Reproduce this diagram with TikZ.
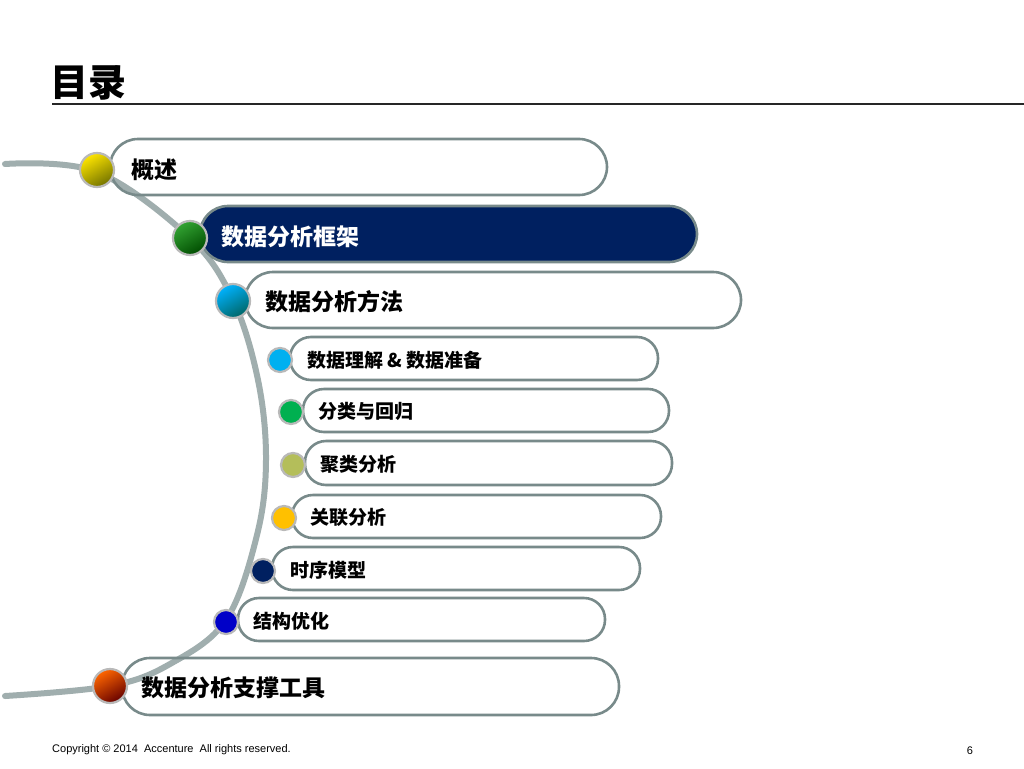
\documentclass[tikz,border=0pt]{standalone}
\usepackage{fontspec}
\setmainfont{Liberation Sans}
\newfontfamily\cjk{Noto Sans CJK SC}
\begin{document}
\begin{tikzpicture}[x=1pt,y=-1pt,
  box/.style={draw=boxgray,line width=2.6pt,rounded corners=#1},
  big/.style={font=\cjk\bfseries\fontsize{23}{26}\selectfont,anchor=west,inner sep=0pt},
  small/.style={font=\cjk\bfseries\fontsize{19}{22}\selectfont,anchor=west,inner sep=0pt},
  ring/.style={circle,draw=ringgray,line width=2.2pt,inner sep=0pt}]
\definecolor{boxgray}{RGB}{120,138,138}
\definecolor{arcgray}{RGB}{160,174,174}
\definecolor{ringgray}{RGB}{185,185,185}
\definecolor{navy}{RGB}{0,32,96}
\useasboundingbox (0,0) rectangle (1024,768);
\fill[white] (0,0) rectangle (1024,768);
% title
\node[font=\cjk\bfseries\fontsize{38}{40}\selectfont,anchor=west,inner sep=0pt] (title) at (50,83) {目录};
\coordinate (tl) at (52,104); \coordinate (tr) at (1024,104);
\draw[line width=1.6pt,black!85] (tl) -- (tr);
% arc
\draw[arcgray,line width=6pt,line cap=round] plot[smooth,tension=0.6] coordinates {(5,164) (97,172) (190,238) (233,300) (258,380) (266,460) (257,535) (226,620) (170,664) (110,686) (5,696)};
% boxes
\draw[box=28] (110,139) rectangle (607,195);
\draw[box=28,fill=navy] (200,206) rectangle (697,262);
\draw[box=28] (245,272) rectangle (741,328);
\draw[box=21] (290,337) rectangle (658,380);
\draw[box=21] (303,389) rectangle (669,432);
\draw[box=21] (305,441) rectangle (672,485);
\draw[box=21] (292,495) rectangle (661,538);
\draw[box=21] (272,547) rectangle (640,590);
\draw[box=21] (238,598) rectangle (605,641);
\draw[box=28] (122,658) rectangle (619,715);
% texts
\node[big] (t1) at (131,170) {概述};
\node[big,text=white] (t2) at (221,237) {数据分析框架};
\node[big] (t3) at (265,302) {数据分析方法};
\node[small] (t4) at (307,360) {数据理解 \& 数据准备};
\node[small] (t5) at (318,411) {分类与回归};
\node[small] (t6) at (320,464) {聚类分析};
\node[small] (t7) at (310,517) {关联分析};
\node[small] (t8) at (290,570) {时序模型};
\node[small] (t9) at (253,621) {结构优化};
\node[big] (t10) at (141,688) {数据分析支撑工具};
% bullets
\node[ring,minimum size=34pt,top color=yellow!80!orange,bottom color=yellow!45!black,shading angle=30] (b1) at (97,170) {};
\node[ring,minimum size=34pt,top color=green!55!black!80,bottom color=green!30!black,shading angle=30] (b2) at (190,238) {};
\node[ring,minimum size=34pt,top color=cyan!70!blue,bottom color=cyan!40!black,shading angle=30] (b3) at (233,301) {};
\node[ring,minimum size=34pt,top color=orange!80!red,bottom color=red!40!black,shading angle=30] (b10) at (110,686) {};
\node[ring,minimum size=24pt,fill={rgb,255:red,0;green,176;blue,240}] (b4) at (280,360) {};
\node[ring,minimum size=24pt,fill={rgb,255:red,0;green,176;blue,80}] (b5) at (291,412) {};
\node[ring,minimum size=24pt,fill={rgb,255:red,180;green,190;blue,90}] (b6) at (293,465) {};
\node[ring,minimum size=24pt,fill={rgb,255:red,255;green,192;blue,0}] (b7) at (284,518) {};
\node[ring,minimum size=24pt,fill=navy] (b8) at (263,571) {};
\node[ring,minimum size=24pt,fill={rgb,255:red,0;green,0;blue,200}] (b9) at (226,622) {};
% footer
\node[font=\fontsize{11}{13}\selectfont,anchor=west,inner sep=0pt] (copy) at (52,750) {Copyright © 2014\ \ Accenture\ \ All rights reserved.};
\node[font=\fontsize{11}{13}\selectfont,inner sep=0pt] (pg) at (970,751) {6};
\end{tikzpicture}
\end{document}
